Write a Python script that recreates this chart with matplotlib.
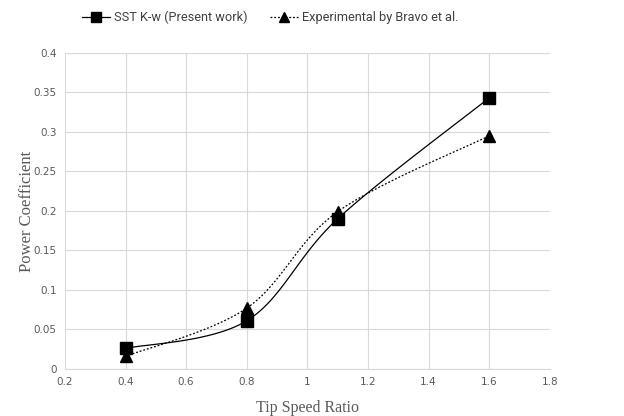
import numpy as np
import matplotlib.pyplot as plt
from matplotlib.lines import Line2D

# Data
tsr = [0.4, 0.8, 1.1, 1.6]
cp_sst = [0.026, 0.061, 0.19, 0.343]
cp_exp = [0.016, 0.077, 0.199, 0.295]

x_ticks = [0.2, 0.4, 0.6, 0.8, 1.0, 1.2, 1.4, 1.6, 1.8]
x_tick_labels = ['0.2', '0.4', '0.6', '0.8', '1', '1.2', '1.4', '1.6', '1.8']
y_ticks = [0, 0.05, 0.1, 0.15, 0.2, 0.25, 0.3, 0.35, 0.4]
y_tick_labels = ['0', '0.05', '0.1', '0.15', '0.2', '0.25', '0.3', '0.35', '0.4']


def smooth(x, y, n=40):
    """Excel-style smoothed line (cubic Bezier through the points)."""
    x = np.asarray(x, float)
    y = np.asarray(y, float)
    pts = np.column_stack([x, y])
    pad = np.vstack([pts[0], pts, pts[-1]])
    out = []
    t = np.linspace(0, 1, n)[:, None]
    for i in range(len(pts) - 1):
        p0, p1, p2, p3 = pad[i], pad[i + 1], pad[i + 2], pad[i + 3]
        c1 = p1 + (p2 - p0) / 6
        c2 = p2 - (p3 - p1) / 6
        seg = ((1 - t) ** 3) * p1 + 3 * ((1 - t) ** 2) * t * c1 + 3 * (1 - t) * t ** 2 * c2 + t ** 3 * p2
        out.append(seg if i == 0 else seg[1:])
    seg = np.vstack(out)
    return seg[:, 0], seg[:, 1]


fig = plt.figure(figsize=(6.24, 4.16), dpi=100)
ax = fig.add_axes([0.104, 0.113, 0.777, 0.760])

sx, sy = smooth(tsr, cp_sst)
ex, ey = smooth(tsr, cp_exp)
ax.plot(sx, sy, color='black', lw=0.9, zorder=3)
ax.plot(ex, ey, color='black', lw=0.9, ls=(0, (1.5, 1.5)), zorder=3)
ax.plot(tsr, cp_sst, ls='none', marker='s', ms=9, color='black', zorder=4)
ax.plot(tsr, cp_exp, ls='none', marker='^', ms=9, color='black', zorder=4)

ax.set_xlim(0.2, 1.8)
ax.set_ylim(0, 0.4)
ax.set_xticks(x_ticks)
ax.set_xticklabels(x_tick_labels)
ax.set_yticks(y_ticks)
ax.set_yticklabels(y_tick_labels)
ax.grid(color='#d9d9d9', lw=0.8, zorder=0)
ax.tick_params(length=0, labelsize=7.5, labelcolor='#595959', pad=6)
for s in ax.spines.values():
    s.set_visible(False)
ax.spines['bottom'].set_visible(True)
ax.spines['bottom'].set_color('#d9d9d9')

ax.set_xlabel('Tip Speed Ratio', family='Liberation Serif', fontsize=11.5, color='#595959', labelpad=9)
ax.set_ylabel('Power Coefficient', family='Liberation Serif', fontsize=12, color='#595959', labelpad=-1)

handles = [
    Line2D([], [], color='black', lw=0.9, marker='s', ms=7),
    Line2D([], [], color='black', lw=0.9, ls=(0, (1.5, 1.5)), marker='^', ms=7),
]
fig.legend(handles, ['SST K-w (Present work)', 'Experimental by Bravo et al.'],
           loc='center', bbox_to_anchor=(0.433, 0.958), ncol=2, frameon=False,
           prop={'family': 'Roboto', 'size': 9.2}, labelcolor='#404040',
           handlelength=2.2, handletextpad=0.3, columnspacing=1.8)

fig.savefig('out.png', dpi=100)
